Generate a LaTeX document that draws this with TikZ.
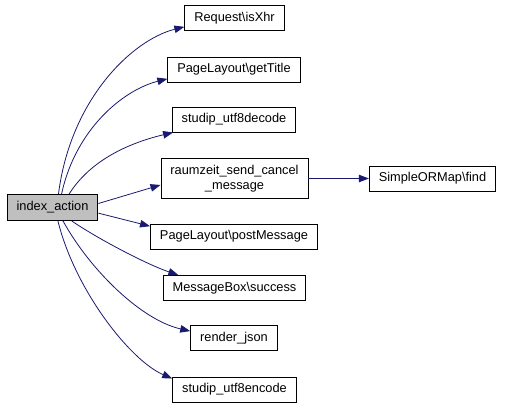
\documentclass[tikz,border=0pt]{standalone}
\usepackage{fontspec}
\setmainfont{Liberation Sans}
\usetikzlibrary{arrows.meta}
\definecolor{edgeblue}{HTML}{191970}
\definecolor{rootgray}{HTML}{BFBFBF}
\begin{document}
\begin{tikzpicture}[
  x=1pt, y=-1pt,
  fnode/.style={rectangle, draw=black, fill=white, line width=0.9pt, inner xsep=9.5pt, inner ysep=0pt, minimum height=25pt, font=\fontsize{12.8}{15}\selectfont, align=center},
  rootnode/.style={fnode, fill=rootgray, minimum height=26pt},
  edge/.style={draw=edgeblue, line width=0.8pt, -{Triangle[length=10pt,width=7.5pt]}}
]
  \useasboundingbox (0,0) rectangle (507,408);

  % Nodos
  \node[rootnode] (idx) at (52.5,207.5) {index\_action};
  \node[fnode] (req)  at (234.5,18)    {Request\textbackslash isXhr};
  \node[fnode] (title) at (234,69.5)   {PageLayout\textbackslash getTitle};
  \node[fnode] (dec)  at (234,119.5)   {studip\_utf8decode};
  \node[fnode, minimum height=40pt] (raum) at (234.5,178.5) {raumzeit\_send\_cancel\\\_message};
  \node[fnode] (post) at (234,236.5)   {PageLayout\textbackslash postMessage};
  \node[fnode] (mbox) at (234.5,288)   {MessageBox\textbackslash success};
  \node[fnode] (json) at (234,338)     {render\_json};
  \node[fnode] (enc)  at (234.5,389.5) {studip\_utf8encode};
  \node[fnode] (find) at (432.5,178.5) {SimpleORMap\textbackslash find};

  % Llamadas
  \draw[edge] (idx.66)  .. controls +(12,-95) and +(-52,13) .. (req.190);
  \draw[edge] (idx.56)  .. controls +(14,-65) and +(-44,11) .. (title.188);
  \draw[edge] (idx.39)  .. controls +(22,-35) and +(-42,10) .. (dec.192);
  \draw[edge] (idx.5)   -- (raum.185);
  \draw[edge] (idx.353) -- (post.173);
  \draw[edge] (idx.325) .. controls +(28,19) and +(-30,-10) .. (mbox.167);
  \draw[edge] (idx.308) .. controls +(27,49) and +(-49,-11) .. (json.171);
  \draw[edge] (idx.292) .. controls +(17,69) and +(-42,-18) .. (enc.170);
  \draw[edge] (raum.east) -- (find.west);
\end{tikzpicture}
\end{document}
